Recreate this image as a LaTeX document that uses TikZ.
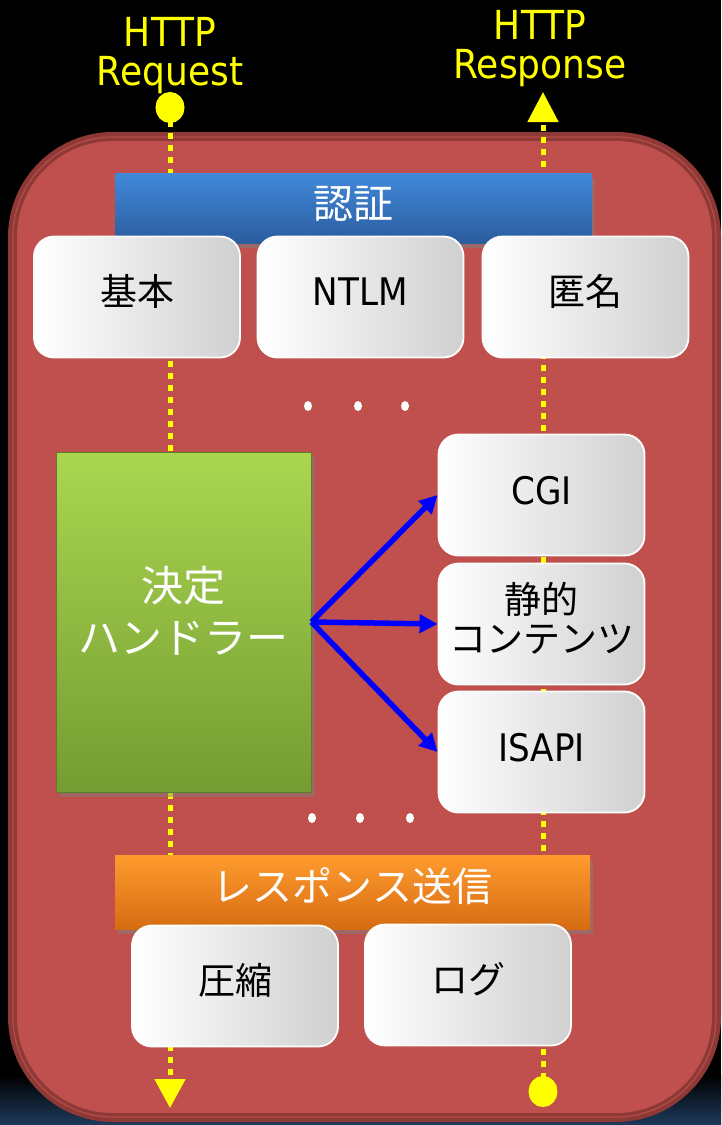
\documentclass[tikz,border=0pt]{standalone}
\usepackage{fontspec}
\setmainfont{Noto Sans CJK JP}
\newfontfamily\jpfont{Noto Sans CJK JP}
\newfontfamily\ltfont[FakeStretch=0.9]{DejaVu Sans}
\usetikzlibrary{arrows.meta,shadows}
\definecolor{redbox}{HTML}{C0504D}
\definecolor{rededge}{HTML}{8E3935}
\definecolor{redline}{HTML}{B44C49}
\definecolor{boxgray}{HTML}{D0D0D0}
\definecolor{yel}{HTML}{FFFF00}
\definecolor{bluetop}{HTML}{4189DA}
\definecolor{bluebot}{HTML}{2B5C9E}
\definecolor{greentop}{HTML}{AAD650}
\definecolor{greenbot}{HTML}{749C32}
\definecolor{orangetop}{HTML}{FF9B2E}
\definecolor{orangebot}{HTML}{D66C12}
\definecolor{glow}{HTML}{1E3A5C}
\begin{document}
\begin{tikzpicture}[x=1pt,y=-1pt,
  wbox/.style={draw=white, line width=1.8pt, rounded corners=20pt,
    left color=white, right color=boxgray, minimum width=206pt,
    minimum height=121pt, inner sep=0pt, text=black, align=center},
  jpf/.style={font=\jpfont\fontsize{37}{40}\selectfont, text depth=14pt},
  ltf/.style={font=\ltfont\fontsize{38}{40}\selectfont, text depth=10pt},
  barbox/.style={minimum width=476pt, inner sep=0pt, text=white,
    drop shadow={shadow xshift=3pt, shadow yshift=-5pt, opacity=0.5},
    font=\jpfont\fontsize{40}{44}\selectfont},
  ydash/.style={draw=yel, line width=5pt, dash pattern=on 6pt off 6pt},
  conn/.style={draw=blue, line width=5.5pt, -{Triangle[length=18pt,width=18pt]}},
  httplabel/.style={text=yel, align=center, font=\ltfont\fontsize{40}{39}\selectfont, inner sep=0pt},
  dotmark/.style={fill=white}
]
\useasboundingbox (0,0) rectangle (721,1125);
\fill[black] (0,0) rectangle (721,1125);
\shade[top color=black, bottom color=glow] (0,1075) rectangle (721,1125);

% outer container
\fill[rededge, rounded corners=105pt] (8,132) rectangle (721,1122);
\draw[redline, line width=1.2pt, rounded corners=100pt] (13,137) rectangle (716,1117);
\fill[redbox, rounded corners=96pt] (17,141) rectangle (712,1113);

% labels on top
\node[httplabel] (req) at (170,56) {HTTP\\Request};
\node[httplabel] (resp) at (540,49) {HTTP\\Response};

% flow lines
\coordinate (reqstart) at (170,92);
\coordinate (reqend) at (170,1108);
\coordinate (respstart) at (543,1107);
\coordinate (respend) at (543,92);
\draw[ydash, {Ellipse[length=31pt,width=29pt]}-{Triangle[length=29pt,width=30pt]}]
  (reqstart) -- (reqend);
\draw[ydash, {Ellipse[length=31pt,width=29pt]}-{Triangle[length=30pt,width=30pt]}]
  (respstart) -- (respend);

% authentication
\node[barbox, top color=bluetop, bottom color=bluebot, minimum height=70pt,
  text depth=12pt]
  (auth) at (353.5,208) {認証};
\node[wbox, jpf] (basic) at (137,297) {基本};
\node[wbox, ltf] (ntlm) at (360.5,297) {NTLM};
\node[wbox, jpf] (anon) at (585.5,297) {匿名};

% dots
\foreach \dx in {308,358,405} \fill[dotmark] (\dx,406) ellipse (4pt and 5pt);

% handler
\node[minimum width=255pt, minimum height=340pt, inner sep=0pt,
  top color=greentop, bottom color=greenbot, draw=greenbot!80!black, line width=0.8pt,
  drop shadow={shadow xshift=4pt, shadow yshift=-5pt, opacity=0.5},
  text=white, align=center, font=\jpfont\fontsize{42}{52}\selectfont, text depth=24pt]
  (handler) at (183.5,622) {決定\\ハンドラー};

\node[wbox, ltf] (cgi) at (541.5,495) {CGI};
\node[wbox, font=\jpfont\fontsize{37}{39}\selectfont, text depth=14pt] (static) at (541.5,624) {静的\\コンテンツ};
\node[wbox, ltf] (isapi) at (541.5,752) {ISAPI};

\draw[conn] (handler.east) -- (cgi.west);
\draw[conn] (handler.east) -- (static.west);
\draw[conn] (handler.east) -- (isapi.west);

\foreach \dx in {312,360,410} \fill[dotmark] (\dx,818) ellipse (4pt and 5pt);

% response
\node[barbox, top color=orangetop, bottom color=orangebot, minimum height=74pt,
  minimum width=475pt, text depth=14pt]
  (send) at (352.5,892) {レスポンス送信};
\node[wbox, jpf] (comp) at (235,986) {圧縮};
\node[wbox, jpf] (log) at (468,985) {ログ};
\end{tikzpicture}
\end{document}
